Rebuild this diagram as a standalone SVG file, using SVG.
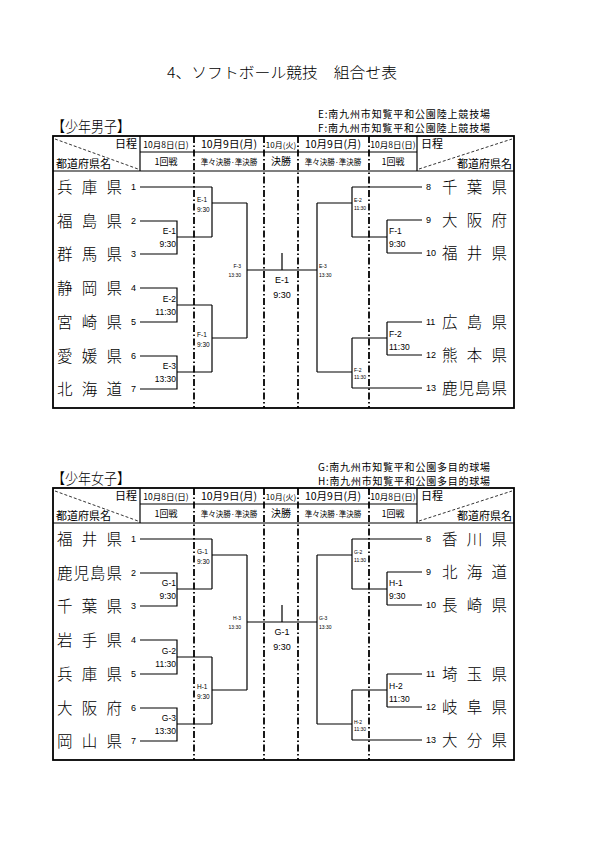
<svg xmlns="http://www.w3.org/2000/svg" width="592" height="841" viewBox="0 0 592 841">
<style>
.ln{stroke:#000;stroke-width:1.2;fill:none}
.dd{stroke:#000;stroke-width:1.8;stroke-dasharray:7 2.5 1.5 2.5;fill:none}
.dg{stroke:#000;stroke-width:0.8;stroke-dasharray:3 2;fill:none}
.bx{stroke:#000;stroke-width:1.8;fill:none}
.sl{stroke:#000;stroke-width:1.2;fill:none}
.jp{font-family:"Noto Sans CJK JP",sans-serif;fill:#000}
.nm{font-family:"Noto Sans CJK JP",sans-serif;font-size:15.5px;font-weight:300;fill:#000}
.no{font-family:"Liberation Sans",sans-serif;font-size:9px;fill:#000}
.lb{font-family:"Liberation Sans",sans-serif;font-size:8.5px;fill:#000}
.qf{font-family:"Liberation Sans",sans-serif;font-size:6.5px;fill:#000}
.sf{font-family:"Liberation Sans",sans-serif;font-size:5px;fill:#000}
.fn{font-family:"Liberation Sans",sans-serif;font-size:9px;fill:#000;text-anchor:middle}
.hd{font-family:"Noto Sans CJK JP",sans-serif;fill:#000;text-anchor:middle}
.e{text-anchor:end}
</style>
<rect width="592" height="841" fill="#fff"/>
<text class="jp" x="167" y="78" font-size="15" font-weight="300" textLength="230" lengthAdjust="spacingAndGlyphs">4、ソフトボール競技　組合せ表</text>

<!-- ===== Boys ===== -->
<g id="boys">
<text class="jp" x="318" y="118" font-size="10" textLength="172" lengthAdjust="spacing">E:南九州市知覧平和公園陸上競技場</text>
<text class="jp" x="318" y="132" font-size="10" textLength="172" lengthAdjust="spacing">F:南九州市知覧平和公園陸上競技場</text>
<text class="jp" x="52" y="132" font-size="15" font-weight="300" textLength="78" lengthAdjust="spacingAndGlyphs">【少年男子】</text>
<g id="boys-frame">
<rect class="bx" x="53" y="136" width="461" height="272"/>
<line class="sl" x1="53" y1="171" x2="514" y2="171"/>
<line class="sl" x1="140" y1="152" x2="417" y2="152"/>
<line class="sl" x1="140" y1="136" x2="140" y2="171"/>
<line class="sl" x1="417" y1="136" x2="417" y2="171"/>
<line class="dd" x1="194" y1="136" x2="194" y2="408"/>
<line class="dd" x1="264" y1="136" x2="264" y2="408"/>
<line class="dd" x1="298" y1="136" x2="298" y2="408"/>
<line class="dd" x1="369" y1="136" x2="369" y2="408"/>
<line class="dg" x1="55" y1="139" x2="138" y2="169"/>
<line class="dg" x1="419" y1="169" x2="512" y2="139"/>
<text class="jp e" x="137" y="148" font-size="11">日程</text>
<text class="jp" x="56" y="168" font-size="11">都道府県名</text>
<text class="jp" x="421" y="148" font-size="11">日程</text>
<text class="jp e" x="512" y="168" font-size="11">都道府県名</text>
<text class="hd" x="166" y="148" font-size="8.5">10月8日(日)</text>
<text class="hd" x="166" y="165" font-size="9">1回戦</text>
<text class="hd" x="229" y="148" font-size="10.5">10月9日(月)</text>
<text class="hd" x="229" y="165" font-size="7.5">準々決勝·準決勝</text>
<text class="hd" x="281" y="148" font-size="8">10月(火)</text>
<text class="hd" x="281" y="165" font-size="10">決勝</text>
<text class="hd" x="333" y="148" font-size="10.5">10月9日(月)</text>
<text class="hd" x="333" y="165" font-size="7.5">準々決勝·準決勝</text>
<text class="hd" x="393" y="148" font-size="8.5">10月8日(日)</text>
<text class="hd" x="393" y="165" font-size="9">1回戦</text>
</g>
<g id="boys-connectors">
<path class="ln" d="M140,187 H212 M140,221 H177 V254 H140 M177,237 H212 M212,187 V237 M212,203 H247"/>
<path class="ln" d="M140,288 H177 V322 H140 M177,305 H212 M140,356 H177 V389 H140 M177,372 H212 M212,305 V372 M212,338 H247"/>
<path class="ln" d="M247,203 V338 M247,270 H317 M282,253 V270 M317,203 V372"/>
<path class="ln" d="M317,203 H352 M352,187 V237 M352,187 H422 M352,237 H387 M387,220 V253 M387,220 H422 M387,253 H422"/>
<path class="ln" d="M317,372 H352 M352,338 V388 M352,388 H422 M352,338 H387 M387,322 V355 M387,322 H422 M387,355 H422"/>
</g>
<g id="boys-teams">
<g id="b1"><text class="nm" x="57" y="193" textLength="65" lengthAdjust="spacing">兵庫県</text><text class="no e" x="136" y="190">1</text></g>
<g id="b2"><text class="nm" x="57" y="227" textLength="65" lengthAdjust="spacing">福島県</text><text class="no e" x="136" y="224">2</text></g>
<g id="b3"><text class="nm" x="57" y="260" textLength="65" lengthAdjust="spacing">群馬県</text><text class="no e" x="136" y="257">3</text></g>
<g id="b4"><text class="nm" x="57" y="294" textLength="65" lengthAdjust="spacing">静岡県</text><text class="no e" x="136" y="291">4</text></g>
<g id="b5"><text class="nm" x="57" y="328" textLength="65" lengthAdjust="spacing">宮崎県</text><text class="no e" x="136" y="325">5</text></g>
<g id="b6"><text class="nm" x="57" y="362" textLength="65" lengthAdjust="spacing">愛媛県</text><text class="no e" x="136" y="359">6</text></g>
<g id="b7"><text class="nm" x="57" y="395" textLength="65" lengthAdjust="spacing">北海道</text><text class="no e" x="136" y="392">7</text></g>
<g id="b8"><text class="no" x="426" y="190">8</text><text class="nm" x="442" y="193" textLength="65" lengthAdjust="spacing">千葉県</text></g>
<g id="b9"><text class="no" x="426" y="223">9</text><text class="nm" x="442" y="226" textLength="65" lengthAdjust="spacing">大阪府</text></g>
<g id="b10"><text class="no" x="426" y="256">10</text><text class="nm" x="442" y="259" textLength="65" lengthAdjust="spacing">福井県</text></g>
<g id="b11"><text class="no" x="426" y="325">11</text><text class="nm" x="442" y="328" textLength="65" lengthAdjust="spacing">広島県</text></g>
<g id="b12"><text class="no" x="426" y="358">12</text><text class="nm" x="442" y="361" textLength="65" lengthAdjust="spacing">熊本県</text></g>
<g id="b13"><text class="no" x="426" y="391">13</text><text class="nm" x="442" y="394" textLength="65" lengthAdjust="spacing">鹿児島県</text></g>
</g>
<g id="boys-matches">
<g id="bm-e1"><text class="lb e" x="176" y="234">E-1</text><text class="lb e" x="176" y="247">9:30</text></g>
<g id="bm-e2"><text class="lb e" x="176" y="302">E-2</text><text class="lb e" x="176" y="315">11:30</text></g>
<g id="bm-e3"><text class="lb e" x="176" y="369">E-3</text><text class="lb e" x="176" y="382">13:30</text></g>
<g id="bm-qe1"><text class="qf" x="197" y="202">E-1</text><text class="qf" x="197" y="212">9:30</text></g>
<g id="bm-qf1"><text class="qf" x="197" y="337">F-1</text><text class="qf" x="197" y="347">9:30</text></g>
<g id="bm-sf3"><text class="sf e" x="241" y="268">F-3</text><text class="sf e" x="241" y="277">13:30</text></g>
<g id="bm-final"><text class="fn" x="282" y="283">E-1</text><text class="fn" x="282" y="298">9:30</text></g>
<g id="bm-se3"><text class="sf" x="319" y="268">E-3</text><text class="sf" x="319" y="277">13:30</text></g>
<g id="bm-qe2"><text class="sf" x="354" y="202">E-2</text><text class="sf" x="354" y="210">11:30</text></g>
<g id="bm-qf2"><text class="sf" x="354" y="372">F-2</text><text class="sf" x="354" y="379">11:30</text></g>
<g id="bm-f1"><text class="lb" x="389" y="234">F-1</text><text class="lb" x="389" y="247">9:30</text></g>
<g id="bm-f2"><text class="lb" x="389" y="337">F-2</text><text class="lb" x="389" y="350">11:30</text></g>
</g>
</g>

<!-- ===== Girls ===== -->
<g id="girls">
<text class="jp" x="318" y="471" font-size="10" textLength="172" lengthAdjust="spacing">G:南九州市知覧平和公園多目的球場</text>
<text class="jp" x="318" y="485" font-size="10" textLength="172" lengthAdjust="spacing">H:南九州市知覧平和公園多目的球場</text>
<g transform="translate(0,352)">
<text class="jp" x="52" y="132" font-size="15" font-weight="300" textLength="78" lengthAdjust="spacingAndGlyphs">【少年女子】</text>
<g id="girls-frame">
<rect class="bx" x="53" y="136" width="461" height="272"/>
<line class="sl" x1="53" y1="171" x2="514" y2="171"/>
<line class="sl" x1="140" y1="152" x2="417" y2="152"/>
<line class="sl" x1="140" y1="136" x2="140" y2="171"/>
<line class="sl" x1="417" y1="136" x2="417" y2="171"/>
<line class="dd" x1="194" y1="136" x2="194" y2="408"/>
<line class="dd" x1="264" y1="136" x2="264" y2="408"/>
<line class="dd" x1="298" y1="136" x2="298" y2="408"/>
<line class="dd" x1="369" y1="136" x2="369" y2="408"/>
<line class="dg" x1="55" y1="139" x2="138" y2="169"/>
<line class="dg" x1="419" y1="169" x2="512" y2="139"/>
<text class="jp e" x="137" y="148" font-size="11">日程</text>
<text class="jp" x="56" y="168" font-size="11">都道府県名</text>
<text class="jp" x="421" y="148" font-size="11">日程</text>
<text class="jp e" x="512" y="168" font-size="11">都道府県名</text>
<text class="hd" x="166" y="148" font-size="8.5">10月8日(日)</text>
<text class="hd" x="166" y="165" font-size="9">1回戦</text>
<text class="hd" x="229" y="148" font-size="10.5">10月9日(月)</text>
<text class="hd" x="229" y="165" font-size="7.5">準々決勝·準決勝</text>
<text class="hd" x="281" y="148" font-size="8">10月(火)</text>
<text class="hd" x="281" y="165" font-size="10">決勝</text>
<text class="hd" x="333" y="148" font-size="10.5">10月9日(月)</text>
<text class="hd" x="333" y="165" font-size="7.5">準々決勝·準決勝</text>
<text class="hd" x="393" y="148" font-size="8.5">10月8日(日)</text>
<text class="hd" x="393" y="165" font-size="9">1回戦</text>
</g>
<g id="girls-connectors">
<path class="ln" d="M140,187 H212 M140,221 H177 V254 H140 M177,237 H212 M212,187 V237 M212,203 H247"/>
<path class="ln" d="M140,288 H177 V322 H140 M177,305 H212 M140,356 H177 V389 H140 M177,372 H212 M212,305 V372 M212,338 H247"/>
<path class="ln" d="M247,203 V338 M247,270 H317 M282,253 V270 M317,203 V372"/>
<path class="ln" d="M317,203 H352 M352,187 V237 M352,187 H422 M352,237 H387 M387,220 V253 M387,220 H422 M387,253 H422"/>
<path class="ln" d="M317,372 H352 M352,338 V388 M352,388 H422 M352,338 H387 M387,322 V355 M387,322 H422 M387,355 H422"/>
</g>
<g id="girls-teams">
<g id="g1"><text class="nm" x="57" y="193" textLength="65" lengthAdjust="spacing">福井県</text><text class="no e" x="136" y="190">1</text></g>
<g id="g2"><text class="nm" x="57" y="227" textLength="65" lengthAdjust="spacing">鹿児島県</text><text class="no e" x="136" y="224">2</text></g>
<g id="g3"><text class="nm" x="57" y="260" textLength="65" lengthAdjust="spacing">千葉県</text><text class="no e" x="136" y="257">3</text></g>
<g id="g4"><text class="nm" x="57" y="294" textLength="65" lengthAdjust="spacing">岩手県</text><text class="no e" x="136" y="291">4</text></g>
<g id="g5"><text class="nm" x="57" y="328" textLength="65" lengthAdjust="spacing">兵庫県</text><text class="no e" x="136" y="325">5</text></g>
<g id="g6"><text class="nm" x="57" y="362" textLength="65" lengthAdjust="spacing">大阪府</text><text class="no e" x="136" y="359">6</text></g>
<g id="g7"><text class="nm" x="57" y="395" textLength="65" lengthAdjust="spacing">岡山県</text><text class="no e" x="136" y="392">7</text></g>
<g id="g8"><text class="no" x="426" y="190">8</text><text class="nm" x="442" y="193" textLength="65" lengthAdjust="spacing">香川県</text></g>
<g id="g9"><text class="no" x="426" y="223">9</text><text class="nm" x="442" y="226" textLength="65" lengthAdjust="spacing">北海道</text></g>
<g id="g10"><text class="no" x="426" y="256">10</text><text class="nm" x="442" y="259" textLength="65" lengthAdjust="spacing">長崎県</text></g>
<g id="g11"><text class="no" x="426" y="325">11</text><text class="nm" x="442" y="328" textLength="65" lengthAdjust="spacing">埼玉県</text></g>
<g id="g12"><text class="no" x="426" y="358">12</text><text class="nm" x="442" y="361" textLength="65" lengthAdjust="spacing">岐阜県</text></g>
<g id="g13"><text class="no" x="426" y="391">13</text><text class="nm" x="442" y="394" textLength="65" lengthAdjust="spacing">大分県</text></g>
</g>
<g id="girls-matches">
<g id="gm-g1"><text class="lb e" x="176" y="234">G-1</text><text class="lb e" x="176" y="247">9:30</text></g>
<g id="gm-g2"><text class="lb e" x="176" y="302">G-2</text><text class="lb e" x="176" y="315">11:30</text></g>
<g id="gm-g3"><text class="lb e" x="176" y="369">G-3</text><text class="lb e" x="176" y="382">13:30</text></g>
<g id="gm-qg1"><text class="qf" x="197" y="202">G-1</text><text class="qf" x="197" y="212">9:30</text></g>
<g id="gm-qh1"><text class="qf" x="197" y="337">H-1</text><text class="qf" x="197" y="347">9:30</text></g>
<g id="gm-sh3"><text class="sf e" x="241" y="268">H-3</text><text class="sf e" x="241" y="277">13:30</text></g>
<g id="gm-final"><text class="fn" x="282" y="283">G-1</text><text class="fn" x="282" y="298">9:30</text></g>
<g id="gm-sg3"><text class="sf" x="319" y="268">G-3</text><text class="sf" x="319" y="277">13:30</text></g>
<g id="gm-qg2"><text class="sf" x="354" y="202">G-2</text><text class="sf" x="354" y="210">11:30</text></g>
<g id="gm-qh2"><text class="sf" x="354" y="372">H-2</text><text class="sf" x="354" y="379">11:30</text></g>
<g id="gm-h1"><text class="lb" x="389" y="234">H-1</text><text class="lb" x="389" y="247">9:30</text></g>
<g id="gm-h2"><text class="lb" x="389" y="337">H-2</text><text class="lb" x="389" y="350">11:30</text></g>
</g>
</g>
</g>
</svg>
